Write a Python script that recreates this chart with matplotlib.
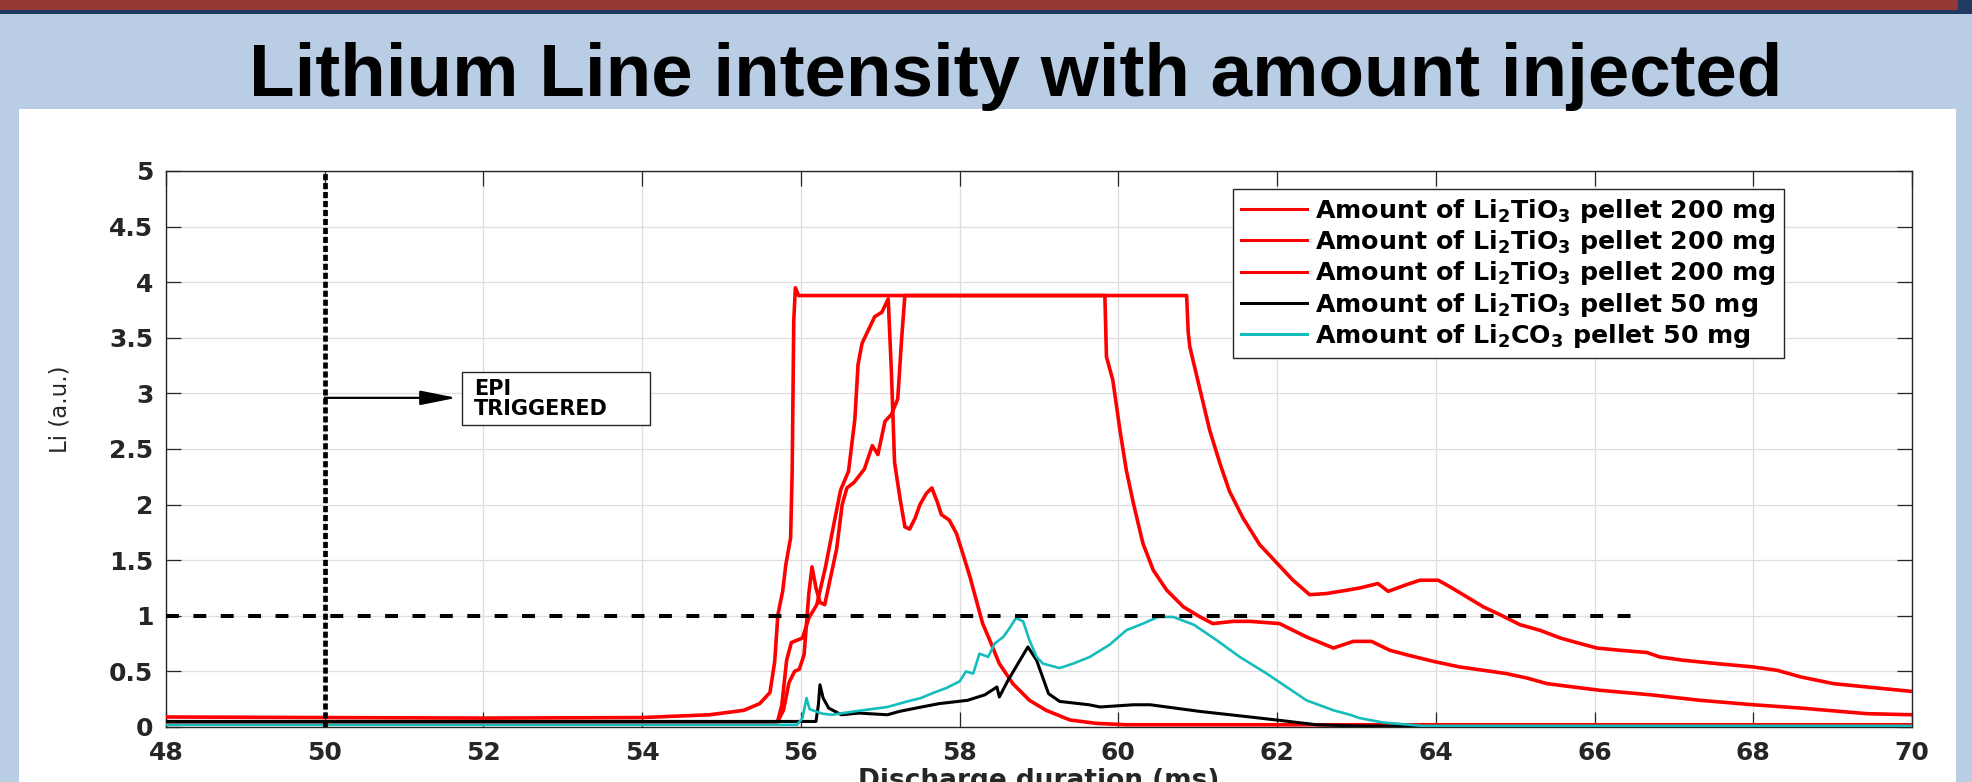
import matplotlib
matplotlib.use('Agg')
import matplotlib.pyplot as plt
from matplotlib.patches import Rectangle

# ---- data (time in ms, Li line intensity in a.u.) ----
# Li2TiO3 200 mg, shot 1 (fast rise, saturates, upper tail)
r1_x = [48, 50, 52, 54, 54.85, 55.28, 55.48, 55.61, 55.67, 55.71, 55.77, 55.81, 55.87,
        55.89, 55.91, 55.93, 55.97, 60.86, 60.88, 60.9, 60.98, 61.07, 61.15, 61.28, 61.4,
        61.57, 61.78, 61.99, 62.2, 62.41, 62.62, 62.88, 63.04, 63.27, 63.4, 63.63, 63.8,
        64.03, 64.18, 64.39, 64.6, 64.81, 65.06, 65.31, 65.57, 65.82, 66.03, 66.32, 66.66,
        66.82, 67.12, 67.54, 68.0, 68.3, 68.6, 69.01, 69.43, 70.0]
r1_y = [0.09, 0.085, 0.08, 0.085, 0.11, 0.15, 0.21, 0.31, 0.59, 1.01, 1.22, 1.46, 1.70,
        2.30, 3.65, 3.95, 3.88, 3.88, 3.55, 3.42, 3.18, 2.91, 2.67, 2.37, 2.12,
        1.88, 1.64, 1.48, 1.32, 1.19, 1.20, 1.23, 1.25, 1.29, 1.22, 1.28, 1.32,
        1.32, 1.26, 1.17, 1.08, 1.01, 0.92, 0.87, 0.80, 0.75, 0.71, 0.69, 0.67,
        0.63, 0.60, 0.57, 0.54, 0.51, 0.45, 0.39, 0.36, 0.32]

# Li2TiO3 200 mg, shot 2 (peaks near 57 ms and decays early)
r2_x = [48, 55.7, 55.76, 55.82, 55.88, 55.95, 56.02, 56.1, 56.2, 56.31, 56.4, 56.5, 56.6,
        56.68, 56.72, 56.77, 56.81, 56.87, 56.93, 57.02, 57.1, 57.14, 57.18, 57.25, 57.31,
        57.37, 57.44, 57.5, 57.58, 57.65, 57.72, 57.77, 57.87, 57.96, 58.04, 58.13, 58.21,
        58.29, 58.38, 58.5, 58.67, 58.88, 59.09, 59.39, 59.72, 60.1, 70.0]
r2_y = [0.03, 0.03, 0.2, 0.6, 0.76, 0.78, 0.8, 0.98, 1.1, 1.44, 1.77, 2.13, 2.3,
        2.77, 3.26, 3.45, 3.51, 3.6, 3.69, 3.73, 3.85, 3.2, 2.38, 2.05, 1.8,
        1.78, 1.88, 2.0, 2.1, 2.15, 2.02, 1.91, 1.86, 1.74, 1.56, 1.35, 1.14,
        0.93, 0.78, 0.57, 0.39, 0.24, 0.15, 0.063, 0.033, 0.02, 0.02]

# Li2TiO3 200 mg, shot 3 (bump at 56.1 ms, saturates, lower tail)
r3_x = [48, 55.7, 55.78, 55.85, 55.92, 55.98, 56.04, 56.1, 56.14, 56.19, 56.24, 56.3,
        56.36, 56.45, 56.52, 56.58, 56.67, 56.8, 56.9, 56.97, 57.06, 57.14, 57.22, 57.27,
        57.31, 59.83, 59.85, 59.93, 60.02, 60.1, 60.19, 60.31, 60.44, 60.61, 60.82, 61.03,
        61.19, 61.45, 61.66, 62.03, 62.2, 62.37, 62.71, 62.96, 63.19, 63.42, 63.63, 63.97,
        64.3, 64.6, 64.89, 65.15, 65.4, 65.73, 66.07, 66.7, 67.33, 68.0, 68.6, 69.43, 70.0]
r3_y = [0.04, 0.04, 0.15, 0.4, 0.5, 0.52, 0.65, 1.2, 1.44, 1.25, 1.12, 1.1,
        1.3, 1.6, 2.0, 2.15, 2.2, 2.32, 2.53, 2.45, 2.75, 2.81, 2.95, 3.5,
        3.88, 3.88, 3.33, 3.12, 2.67, 2.31, 2.01, 1.65, 1.41, 1.23, 1.08, 0.99,
        0.93, 0.95, 0.95, 0.93, 0.87, 0.81, 0.71, 0.77, 0.77, 0.69, 0.65, 0.59,
        0.54, 0.51, 0.48, 0.44, 0.39, 0.36, 0.33, 0.29, 0.24, 0.20, 0.17, 0.12, 0.11]

# Li2TiO3 50 mg
blk_x = [48, 56.19, 56.22, 56.24, 56.28, 56.35, 56.51, 56.73, 57.09, 57.24, 57.52, 57.74,
         58.1, 58.32, 58.47, 58.5, 58.61, 58.76, 58.86, 58.97, 59.12, 59.26, 59.63, 59.77,
         60.19, 60.4, 61.03, 61.66, 62.03, 62.5, 63.0, 63.8, 70.0]
blk_y = [0.05, 0.05, 0.2, 0.38, 0.26, 0.17, 0.11, 0.125, 0.11, 0.14, 0.18, 0.21,
         0.24, 0.29, 0.36, 0.27, 0.42, 0.6, 0.72, 0.6, 0.3, 0.23, 0.20, 0.18,
         0.2, 0.2, 0.14, 0.09, 0.06, 0.02, 0.01, 0.005, 0.005]

# Li2CO3 50 mg
cy_x = [48, 55.95, 56.02, 56.07, 56.11, 56.27, 56.39, 56.67, 57.09, 57.34, 57.51, 57.68,
        57.83, 58.0, 58.08, 58.17, 58.25, 58.36, 58.44, 58.55, 58.63, 58.71, 58.8, 58.88,
        58.97, 59.05, 59.26, 59.43, 59.64, 59.89, 60.1, 60.31, 60.5, 60.69, 60.95, 61.24,
        61.53, 61.87, 62.12, 62.37, 62.71, 62.92, 63.04, 63.34, 63.84, 70.0]
cy_y = [0.02, 0.02, 0.08, 0.26, 0.16, 0.12, 0.11, 0.14, 0.18, 0.23, 0.26, 0.31,
        0.35, 0.41, 0.50, 0.48, 0.66, 0.63, 0.75, 0.81, 0.89, 0.98, 0.95, 0.78,
        0.63, 0.57, 0.53, 0.57, 0.63, 0.74, 0.87, 0.93, 0.99, 0.99, 0.92, 0.78,
        0.63, 0.48, 0.36, 0.24, 0.15, 0.11, 0.08, 0.04, 0.01, 0.01]

labels = [r'Amount of Li$_\mathbf{2}$TiO$_\mathbf{3}$ pellet 200 mg',
          r'Amount of Li$_\mathbf{2}$TiO$_\mathbf{3}$ pellet 200 mg',
          r'Amount of Li$_\mathbf{2}$TiO$_\mathbf{3}$ pellet 200 mg',
          r'Amount of Li$_\mathbf{2}$TiO$_\mathbf{3}$ pellet 50 mg',
          r'Amount of Li$_\mathbf{2}$CO$_\mathbf{3}$ pellet 50 mg']

threshold = 1.0
threshold_end = 66.6
epi_time = 50
x_ticks = list(range(48, 71, 2))
y_ticks = [0, 0.5, 1, 1.5, 2, 2.5, 3, 3.5, 4, 4.5, 5]
y_ticklabels = ['0', '0.5', '1', '1.5', '2', '2.5', '3', '3.5', '4', '4.5', '5']

TXT = '#262626'
plt.rcParams['font.family'] = ['DejaVu Sans']
plt.rcParams['mathtext.fontset'] = 'dejavusans'

W, H = 1972, 782
fig = plt.figure(figsize=(W / 100, H / 100), dpi=100, facecolor='#B9CDE5')

# slide decoration (behind the axes)
fig.add_artist(Rectangle((0, 1 - 10 / H), 1958 / W, 10 / H, transform=fig.transFigure,
                         facecolor='#953735', edgecolor='none', zorder=-10))
fig.add_artist(Rectangle((0, 1 - 14 / H), 1, 4 / H, transform=fig.transFigure,
                         facecolor='#1F3B63', edgecolor='none', zorder=-10))
fig.add_artist(Rectangle((1958 / W, 1 - 14 / H), 14 / W, 14 / H, transform=fig.transFigure,
                         facecolor='#1F3B63', edgecolor='none', zorder=-10))
fig.add_artist(Rectangle((19 / W, 0), (1956 - 19) / W, (H - 109) / H, transform=fig.transFigure,
                         facecolor='white', edgecolor='none', zorder=-10))

fig.text(1016 / W, 1 - 96 / H, 'Lithium Line intensity with amount injected',
         ha='center', va='baseline', fontsize=53.7, fontweight='bold',
         family='Liberation Sans', color='black')

ax = fig.add_axes([166 / W, 55 / H, 1746 / W, 556 / H])
ax.set_facecolor('white')

ax.plot(r1_x, r1_y, color='#FF0000', lw=2.6, label=labels[0], zorder=3)
ax.plot(r2_x, r2_y, color='#FF0000', lw=2.6, label=labels[1], zorder=3)
ax.plot(r3_x, r3_y, color='#FF0000', lw=2.6, label=labels[2], zorder=3)
ax.plot(blk_x, blk_y, color='black', lw=2.2, label=labels[3], zorder=4)
ax.plot(cy_x, cy_y, color='#14BDBD', lw=1.9, label=labels[4], zorder=5)

ax.plot([48, threshold_end], [threshold, threshold], color='black', lw=2.9,
        linestyle=(0, (3.2, 3.6)), zorder=6)
ax.plot([epi_time, epi_time], [0, 5], color='black', lw=3.4,
        linestyle=(0, (1.3, 0.6)), zorder=6)

# EPI annotation
ax.annotate('', xy=(51.66, 2.96), xytext=(epi_time, 2.96),
            arrowprops=dict(arrowstyle='-|>,head_length=1.1,head_width=0.22',
                            color='black', lw=1.6, mutation_scale=20, shrinkA=0, shrinkB=0),
            zorder=7)
ax.add_patch(Rectangle((51.73, 2.72), 2.37, 0.47, facecolor='white',
                       edgecolor=TXT, lw=1.0, zorder=7))
ax.text(51.88, 2.95, 'EPI\nTRIGGERED', ha='left', va='center', fontsize=15,
        fontweight='bold', color='black', linespacing=1.05, zorder=8)

ax.set_xlim(48, 70)
ax.set_ylim(0, 5)
ax.set_xticks(x_ticks)
ax.set_yticks(y_ticks)
ax.set_yticklabels(y_ticklabels)
ax.grid(True, color='#DEDEDE', lw=0.9, zorder=0)
ax.set_axisbelow(True)
for s in ax.spines.values():
    s.set_color(TXT)
    s.set_linewidth(1.0)
ax.tick_params(direction='in', length=11, width=0.9, color=TXT, top=True, right=True,
               labelsize=18, labelcolor=TXT)
ax.tick_params(axis='x', pad=10)
ax.tick_params(axis='y', pad=9)
for t in ax.get_xticklabels() + ax.get_yticklabels():
    t.set_fontweight('bold')

ax.set_ylabel('Li (a.u.)', fontsize=16.5, color=TXT)
ax.yaxis.set_label_coords(-0.054, 0.572)
ax.set_xlabel('Discharge duration (ms)', fontsize=19, fontweight='bold', color=TXT)
ax.xaxis.set_label_coords(0.5, -0.074)

leg = ax.legend(loc='upper left', bbox_to_anchor=(0.611, 0.968), borderaxespad=0,
                fancybox=False, framealpha=1, edgecolor=TXT,
                prop={'weight': 'bold', 'size': 18.2}, handlelength=2.6,
                handletextpad=0.35, labelspacing=0.13, borderpad=0.32)
leg.get_frame().set_linewidth(1.0)
for line in leg.get_lines():
    line.set_linewidth(2.2)
leg.set_zorder(10)

fig.savefig('out.png', dpi=100, facecolor=fig.get_facecolor())
